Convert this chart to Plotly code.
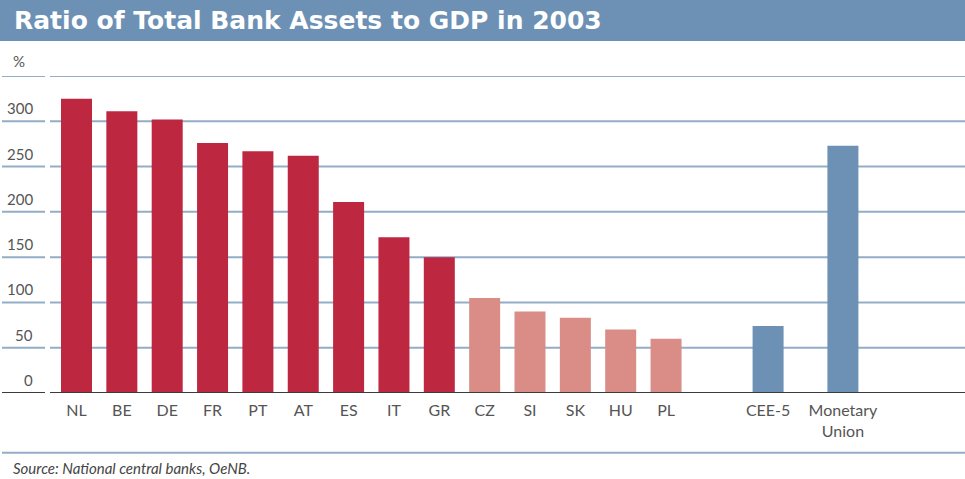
import plotly.graph_objects as go

# --- data -------------------------------------------------------------
countries = ["NL", "BE", "DE", "FR", "PT", "AT", "ES", "IT", "GR",
             "CZ", "SI", "SK", "HU", "PL", "CEE-5", "Monetary<br>Union"]
assets_to_gdp = [325, 311, 302, 276, 267, 262, 211, 172, 150,
                 105, 90, 83, 70, 60, 74, 273]
group = ["euro"] * 9 + ["cee"] * 5 + ["aggregate"] * 2
y_ticks = [0, 50, 100, 150, 200, 250, 300]

# --- styling ----------------------------------------------------------
W, H = 965, 479
PLOT_LEFT, PLOT_RIGHT = 2, 965          # px
PLOT_TOP, PLOT_BOTTOM = 76, 393.3       # px
Y_MAX = 350
SLOT_PX = 45.35
FIRST_CENTER_PX = 76.5

colors = {"euro": "#be2740", "cee": "#da8d87", "aggregate": "#6d91b4"}
grid_color = "#93adc7"
text_color = "#555555"

# extra spacing in slots inserted before the aggregate bars
extra_gap = [0] * 14 + [1.25, 0.65]
xpos = []
cur = -1.0
for g in extra_gap:
    cur += 1 + g
    xpos.append(cur)

x0 = -(FIRST_CENTER_PX - PLOT_LEFT) / SLOT_PX
x1 = x0 + (PLOT_RIGHT - PLOT_LEFT) / SLOT_PX


def px_x(px):
    return (px - PLOT_LEFT) / (PLOT_RIGHT - PLOT_LEFT)


def px_y(px):
    return (PLOT_BOTTOM - px) / (PLOT_BOTTOM - PLOT_TOP)


fig = go.Figure(go.Bar(
    x=xpos,
    y=assets_to_gdp,
    width=31 / SLOT_PX,
    marker=dict(color=[colors[g] for g in group], line=dict(width=0)),
    hovertext=[c.replace("<br>", " ") for c in countries],
    hoverinfo="text+y",
))

shapes = []
# title banner
shapes.append(dict(type="rect", xref="paper", yref="paper",
                   x0=px_x(0), x1=px_x(W), y0=px_y(41), y1=px_y(0),
                   fillcolor="#6d91b4", line=dict(width=0), layer="below"))
# horizontal grid lines (full width, with a small break next to the labels)
for v in y_ticks[1:] + [Y_MAX]:
    shapes.append(dict(type="line", xref="paper", yref="y",
                       x0=px_x(2), x1=px_x(965), y0=v, y1=v,
                       line=dict(color=grid_color, width=2), layer="below"))
# baseline
shapes.append(dict(type="line", xref="paper", yref="y",
                   x0=px_x(2), x1=px_x(965), y0=0, y1=0,
                   line=dict(color="#3c3c3c", width=2), layer="above"))
# break between the label column and the plotting area
shapes.append(dict(type="rect", xref="paper", yref="paper",
                   x0=px_x(45), x1=px_x(50), y0=px_y(396), y1=px_y(70),
                   fillcolor="white", line=dict(width=0), layer="above"))
# separator above the source note
shapes.append(dict(type="line", xref="paper", yref="paper",
                   x0=px_x(2), x1=px_x(965), y0=px_y(453), y1=px_y(453),
                   line=dict(color=grid_color, width=2)))

annotations = []
annotations.append(dict(text="<b>Ratio of Total Bank Assets to GDP in 2003</b>",
                        xref="paper", yref="paper", x=px_x(12), y=px_y(20),
                        xanchor="left", yanchor="middle", showarrow=False,
                        font=dict(family="DejaVu Sans", size=25, color="white")))
for v in y_ticks:
    annotations.append(dict(text=str(v), xref="paper", yref="y",
                            x=px_x(35), y=v, yshift=13,
                            xanchor="right", yanchor="middle", showarrow=False,
                            font=dict(family="Lato", size=15, color=text_color)))
annotations.append(dict(text="%", xref="paper", yref="y",
                        x=px_x(19), y=Y_MAX, yshift=15,
                        xanchor="center", yanchor="middle", showarrow=False,
                        font=dict(family="Lato", size=15, color=text_color)))
annotations.append(dict(text="<i>Source: National central banks, OeNB.</i>",
                        xref="paper", yref="paper", x=px_x(11), y=px_y(468),
                        xanchor="left", yanchor="middle", showarrow=False,
                        font=dict(family="Lato", size=15, color="#444444")))

fig.update_layout(
    width=W, height=H,
    margin=dict(l=PLOT_LEFT, r=W - PLOT_RIGHT, t=PLOT_TOP, b=H - PLOT_BOTTOM, pad=0),
    paper_bgcolor="white", plot_bgcolor="white",
    showlegend=False,
    shapes=shapes,
    annotations=annotations,
    xaxis=dict(range=[x0, x1], tickmode="array", tickvals=xpos, ticktext=countries,
               showgrid=False, zeroline=False, showline=False, ticks="",
               tickfont=dict(family="Lato", size=16, color=text_color),
               ticklabelstandoff=6, fixedrange=True),
    yaxis=dict(range=[0, Y_MAX], showgrid=False, zeroline=False,
               showticklabels=False, showline=False, ticks="", fixedrange=True),
)

fig.write_html("out.html")
